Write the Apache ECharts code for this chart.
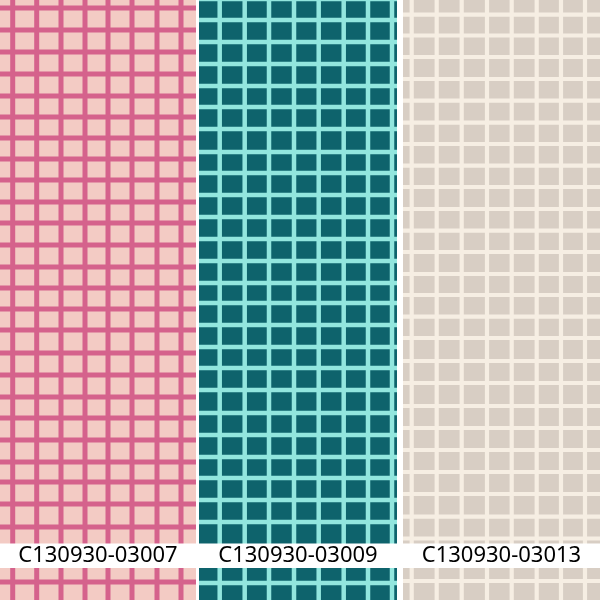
<!DOCTYPE html>
<html>
<head>
<meta charset="utf-8">
<script src="https://cdn.jsdelivr.net/npm/echarts@6/dist/echarts.min.js"></script>
<style>
html,body{margin:0;padding:0;background:#ffffff;}
#main{width:600px;height:600px;}
</style>
</head>
<body>
<div id="main"></div>
<script>
// Swatch codes (labels)
const codes = ['C130930-03007', 'C130930-03009', 'C130930-03013'];

// Grid-line centres (fabric units along each swatch)
const colsA = [12.7, 36.7, 61, 85, 108, 132, 157, 181];
const rowsA = [8, 30, 52, 74, 96, 117, 138, 159, 180, 202, 223, 245, 267, 288, 309, 330, 353, 375, 397, 418, 440, 462, 482, 504, 527, 582];

const colsB = [20.7, 45.7, 70, 95, 119.7, 144.7, 169, 193];
const rowsB = [-1, 20, 42, 64, 86, 107, 129, 152, 173, 195, 217, 239, 261, 283, 303, 325, 347, 368, 390, 413, 435, 457, 478, 500, 522, 583];

const colsC = [8.7, 33.7, 58.7, 84, 108.7, 133.7, 158, 182];
const rowsC = [14.7, 35.5, 57, 79, 100.7, 122.7, 144, 165.7, 187, 209, 230.7, 252, 274, 295, 316.7, 338, 361, 383, 406, 428, 450, 472, 494, 516.7, 538.5, 581];

const swatchCols = [colsA, colsB, colsC];
const swatchRows = [rowsA, rowsB, rowsC];

// Layout & styles
const panels = [
  {left: 0,   width: 196, bg: '#f3cbc4', line: '#d5628c', lw: 5},
  {left: 199, width: 198, bg: '#0e636c', line: '#92e6de', lw: 4.5},
  {left: 403, width: 197, bg: '#d8cec4', line: '#f6eee3', lw: 4.2}
];
const H = 600;

const grids = [], xAxes = [], yAxes = [], series = [], graphics = [];

panels.forEach(function (p, i) {
  grids.push({left: p.left, top: 0, width: p.width, height: H, show: true,
    backgroundColor: p.bg, borderWidth: 0, containLabel: false});
  xAxes.push({type: 'value', gridIndex: i, min: 0, max: p.width, show: false});
  yAxes.push({type: 'value', gridIndex: i, min: 0, max: H, inverse: true, show: false});
  const data = [];
  swatchCols[i].forEach(function (v) { data.push([0, v]); });
  swatchRows[i].forEach(function (v) { data.push([1, v]); });
  const w = p.lw, col = p.line, pw = p.width;
  series.push({
    type: 'custom',
    xAxisIndex: i, yAxisIndex: i,
    coordinateSystem: 'cartesian2d',
    clip: true,
    silent: true,
    animation: false,
    data: data,
    renderItem: function (params, api) {
      const kind = api.value(0), v = api.value(1);
      let a, b;
      if (kind === 0) {
        a = api.coord([v, 0]); b = api.coord([v, H]);
        return {type: 'rect', shape: {x: a[0] - w / 2, y: Math.min(a[1], b[1]), width: w, height: Math.abs(b[1] - a[1])},
          style: {fill: col}};
      } else {
        a = api.coord([0, v]); b = api.coord([pw, v]);
        return {type: 'rect', shape: {x: Math.min(a[0], b[0]), y: a[1] - w / 2, width: Math.abs(b[0] - a[0]), height: w},
          style: {fill: col}};
      }
    }
  });
  graphics.push({
    type: 'text', z: 101,
    x: p.left + p.width / 2, y: 556,
    style: {text: codes[i], fill: '#000000', font: '22px "Noto Sans"', textAlign: 'center', textVerticalAlign: 'middle'}
  });
});

graphics.unshift({type: 'rect', z: 100, shape: {x: 0, y: 543.5, width: 600, height: 24.5}, style: {fill: '#ffffff'}});

const chart = echarts.init(document.getElementById('main'), null, {renderer: 'canvas'});
chart.setOption({
  backgroundColor: '#ffffff',
  animation: false,
  grid: grids,
  xAxis: xAxes,
  yAxis: yAxes,
  series: series,
  graphic: graphics
});
</script>
</body>
</html>
